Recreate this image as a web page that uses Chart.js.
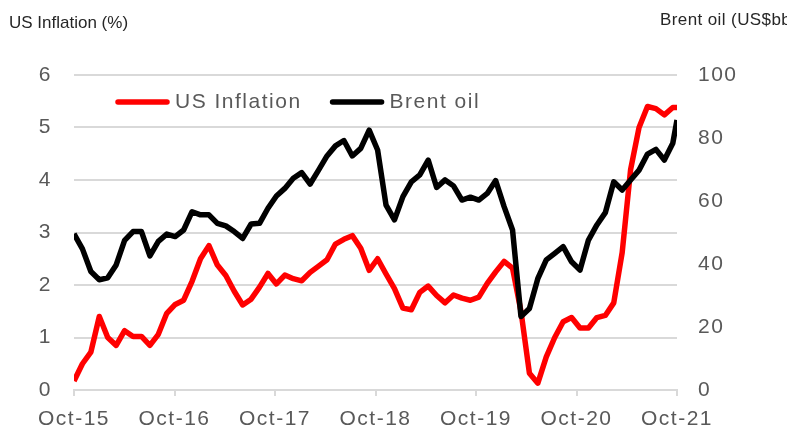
<!DOCTYPE html>
<html>
<head>
<meta charset="utf-8">
<script src="https://cdn.jsdelivr.net/npm/chart.js@4.4.1/dist/chart.umd.min.js"></script>
<style>
  html, body { margin: 0; padding: 0; background: #ffffff; }
  #wrap { position: relative; width: 787px; height: 428px; }
</style>
</head>
<body>
<div id="wrap"><canvas id="c" width="787" height="428"></canvas></div>
<script>
// ---- data ----
const monthNames = ['Oct','Nov','Dec','Jan','Feb','Mar','Apr','May','Jun','Jul','Aug','Sep'];
// monthly observations Oct-15 .. Sep-21 plus the latest (mid Oct-21) reading
const categories = [];
for (let i = 0; i < 73; i++) {
  const yr = 15 + Math.floor((i + 9) / 12);
  categories.push(monthNames[i % 12] + '-' + yr);
}
const latestReadingFraction = 0.5; // last point is a mid-month reading

const usInflation = [
  0.17, 0.50, 0.72, 1.40, 1.00, 0.85, 1.13, 1.02, 1.02, 0.85, 1.06, 1.46,
  1.63, 1.71, 2.07, 2.50, 2.75, 2.38, 2.18, 1.88, 1.62, 1.73, 1.96, 2.22,
  2.02, 2.19, 2.12, 2.08, 2.24, 2.36, 2.48, 2.78, 2.87, 2.94, 2.70, 2.28,
  2.50, 2.21, 1.93, 1.56, 1.53, 1.86, 1.98, 1.80, 1.66, 1.81, 1.75, 1.71,
  1.77, 2.03, 2.25, 2.45, 2.32, 1.50, 0.32, 0.13, 0.63, 1.00, 1.30, 1.38,
  1.18, 1.18, 1.38, 1.42, 1.66, 2.62, 4.20, 5.00, 5.40, 5.36, 5.24, 5.38,
  5.38
];
const brentOil = [
  49.6, 44.8, 37.6, 35.0, 35.6, 39.7, 47.5, 50.3, 50.3, 42.6, 47.2, 49.5,
  48.7, 50.8, 56.6, 55.6, 55.6, 52.9, 52.1, 50.3, 48.1, 52.7, 52.9, 57.7,
  61.6, 64.0, 67.2, 69.0, 65.4, 69.8, 74.3, 77.5, 79.2, 74.3, 76.7, 82.5,
  76.2, 58.7, 54.0, 61.4, 66.1, 68.3, 73.0, 64.3, 66.7, 64.8, 60.3, 61.2,
  60.3, 62.4, 66.5, 58.2, 50.8, 23.3, 25.9, 35.4, 41.3, 43.4, 45.5, 40.7,
  38.1, 47.6, 52.4, 56.3, 66.1, 63.5, 66.7, 69.8, 74.9, 76.4, 73.0, 78.3,
  85.7
];
const tickLabels = ['Oct-15','Oct-16','Oct-17','Oct-18','Oct-19','Oct-20','Oct-21'];
const leftTicks = [0, 1, 2, 3, 4, 5, 6];
const rightTicks = [0, 20, 40, 60, 80, 100];
const leftTitle = 'US Inflation (%)';
const rightTitle = 'Brent oil (US$bbl)';
const seriesNames = ['US Inflation', 'Brent oil'];

// ---- helpers ----
const monthPos = categories.map((_, i) =>
  i < categories.length - 1 ? i : i - 1 + latestReadingFraction);
const toXY = vals => vals.map((v, i) => ({ x: monthPos[i], y: v }));
const xMax = monthPos[monthPos.length - 1];

const FONT = '"Liberation Sans", Arial, sans-serif';
const GREY = '#595959';
const GRID = '#d9d9d9';
const SPACING = '1.5px';

const spacingPlugin = {
  id: 'spacing',
  beforeUpdate(chart) { chart.ctx.letterSpacing = SPACING; },
  beforeLayout(chart) { chart.ctx.letterSpacing = SPACING; },
  beforeDraw(chart) { chart.ctx.letterSpacing = SPACING; }
};

const extrasPlugin = {
  id: 'extras',
  afterDraw(chart) {
    const ctx = chart.ctx;
    ctx.save();
    // axis titles
    ctx.font = '17px ' + FONT;
    ctx.fillStyle = '#262626';
    ctx.textBaseline = 'middle';
    ctx.textAlign = 'left';
    ctx.letterSpacing = '0px';
    ctx.fillText(leftTitle, 9, 23);
    ctx.letterSpacing = '0.4px';
    ctx.fillText(rightTitle, 660, 20);
    // legend (inside plot, top)
    ctx.letterSpacing = SPACING;
    ctx.font = '21px ' + FONT;
    let x = 115;
    const y = 102;
    const order = [1, 0]; // inflation first, then brent
    order.forEach(di => {
      const ds = chart.data.datasets[di];
      ctx.strokeStyle = ds.borderColor;
      ctx.lineWidth = 5.5;
      ctx.lineCap = 'round';
      ctx.beginPath();
      ctx.moveTo(x + 3, y);
      ctx.lineTo(x + 52, y);
      ctx.stroke();
      ctx.fillStyle = GREY;
      ctx.fillText(ds.label, x + 60, y);
      x += 60 + ctx.measureText(ds.label).width + 28;
    });
    ctx.restore();
  }
};

new Chart(document.getElementById('c'), {
  type: 'line',
  data: {
    datasets: [
      {
        label: seriesNames[1],
        data: toXY(brentOil),
        yAxisID: 'yR',
        borderColor: '#000000',
        backgroundColor: '#000000',
        borderWidth: 5.5,
        pointRadius: 0,
        tension: 0,
        borderJoinStyle: 'round',
        borderCapStyle: 'butt',
        order: 0
      },
      {
        label: seriesNames[0],
        data: toXY(usInflation),
        yAxisID: 'yL',
        borderColor: '#ff0000',
        backgroundColor: '#ff0000',
        borderWidth: 5.5,
        pointRadius: 0,
        tension: 0,
        borderJoinStyle: 'round',
        borderCapStyle: 'butt',
        order: 1
      }
    ]
  },
  options: {
    responsive: false,
    animation: false,
    devicePixelRatio: 1,
    layout: { padding: { top: 75, left: 0, right: 0, bottom: 0 } },
    plugins: {
      legend: { display: false },
      tooltip: { enabled: false }
    },
    scales: {
      x: {
        type: 'linear',
        min: 0,
        max: xMax,
        afterBuildTicks(scale) {
          scale.ticks = tickLabels.map((_, k) => ({ value: k * xMax / (tickLabels.length - 1) }));
        },
        afterFit(scale) { scale.height = 38; },
        ticks: {
          autoSkip: false,
          maxRotation: 0,
          minRotation: 0,
          padding: 11,
          color: GREY,
          font: { family: FONT, size: 21 },
          callback: (v, idx) => tickLabels[idx]
        },
        grid: {
          drawOnChartArea: false,
          drawTicks: true,
          tickLength: 6,
          color: GRID,
          lineWidth: 2
        },
        border: { display: true, color: GRID, width: 2 }
      },
      yL: {
        position: 'left',
        min: 0,
        max: 6,
        afterBuildTicks(scale) { scale.ticks = leftTicks.map(v => ({ value: v })); },
        afterFit(scale) { scale.width = 74; },
        ticks: {
          padding: 22,
          color: GREY,
          font: { family: FONT, size: 21 }
        },
        grid: { color: GRID, lineWidth: 2, drawTicks: false },
        border: { display: false }
      },
      yR: {
        position: 'right',
        min: 0,
        max: 100,
        afterBuildTicks(scale) { scale.ticks = rightTicks.map(v => ({ value: v })); },
        afterFit(scale) { scale.width = 110; },
        ticks: {
          padding: 21,
          color: GREY,
          font: { family: FONT, size: 21 }
        },
        grid: { display: false, drawTicks: false },
        border: { display: false }
      }
    }
  },
  plugins: [spacingPlugin, extrasPlugin]
});
</script>
</body>
</html>
